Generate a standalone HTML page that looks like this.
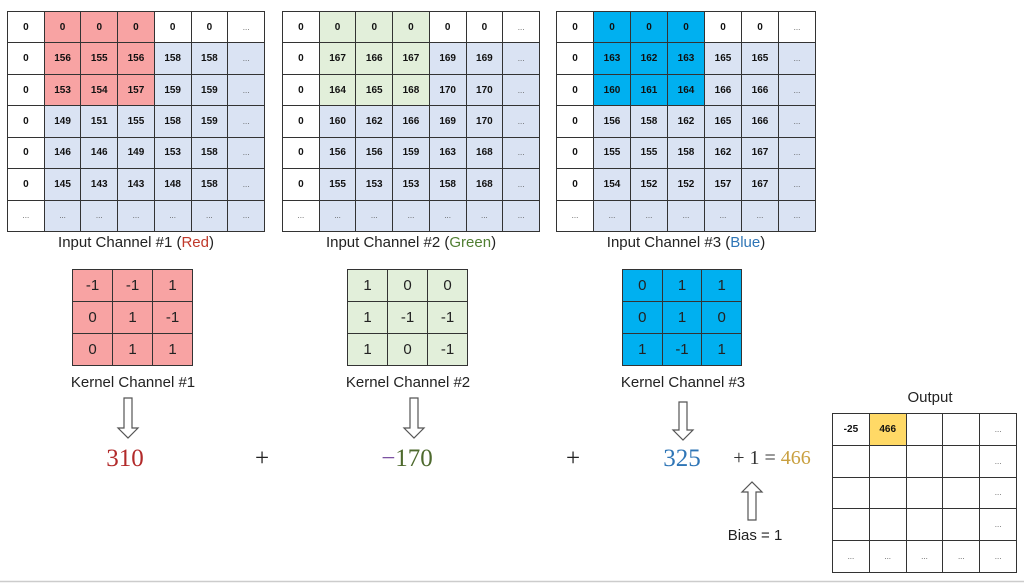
<!DOCTYPE html>
<html><head><meta charset="utf-8"><style>
body{margin:0;width:1024px;height:584px;background:#fff;position:relative;overflow:hidden;font-family:"Liberation Sans",sans-serif;}
.a{position:absolute}
table{position:absolute;border-collapse:collapse;table-layout:fixed}
.g td{border:1.5px solid #333;text-align:center;font-size:10px;font-weight:bold;padding:0;color:#111;height:30px}
.g .e{font-weight:normal;font-size:8px;color:#555}
.w{background:#fff}.b{background:#dae3f3}.r{background:#f8a3a3}.gr{background:#e2efda}.c{background:#00b0f0}
.k td{border:1.5px solid #333;text-align:center;font-size:15px;padding:0;height:30px;color:#222}
.lab{position:absolute;font-size:15px;color:#222;white-space:nowrap;transform:translateX(-50%)}
.num{position:absolute;font-family:"Liberation Serif",serif;font-size:25px;transform:translateX(-50%);white-space:nowrap}
</style></head><body>

<table class="g" style="left:7px;top:11px;width:258px;height:221px">
<tr><td class="w">0</td><td class="r">0</td><td class="r">0</td><td class="r">0</td><td class="w">0</td><td class="w">0</td><td class="w e">...</td></tr>
<tr><td class="w">0</td><td class="r">156</td><td class="r">155</td><td class="r">156</td><td class="b">158</td><td class="b">158</td><td class="b e">...</td></tr>
<tr><td class="w">0</td><td class="r">153</td><td class="r">154</td><td class="r">157</td><td class="b">159</td><td class="b">159</td><td class="b e">...</td></tr>
<tr><td class="w">0</td><td class="b">149</td><td class="b">151</td><td class="b">155</td><td class="b">158</td><td class="b">159</td><td class="b e">...</td></tr>
<tr><td class="w">0</td><td class="b">146</td><td class="b">146</td><td class="b">149</td><td class="b">153</td><td class="b">158</td><td class="b e">...</td></tr>
<tr><td class="w">0</td><td class="b">145</td><td class="b">143</td><td class="b">143</td><td class="b">148</td><td class="b">158</td><td class="b e">...</td></tr>
<tr><td class="w e">...</td><td class="b e">...</td><td class="b e">...</td><td class="b e">...</td><td class="b e">...</td><td class="b e">...</td><td class="b e">...</td></tr>
</table>

<table class="g" style="left:282px;top:11px;width:258px;height:221px">
<tr><td class="w">0</td><td class="gr">0</td><td class="gr">0</td><td class="gr">0</td><td class="w">0</td><td class="w">0</td><td class="w e">...</td></tr>
<tr><td class="w">0</td><td class="gr">167</td><td class="gr">166</td><td class="gr">167</td><td class="b">169</td><td class="b">169</td><td class="b e">...</td></tr>
<tr><td class="w">0</td><td class="gr">164</td><td class="gr">165</td><td class="gr">168</td><td class="b">170</td><td class="b">170</td><td class="b e">...</td></tr>
<tr><td class="w">0</td><td class="b">160</td><td class="b">162</td><td class="b">166</td><td class="b">169</td><td class="b">170</td><td class="b e">...</td></tr>
<tr><td class="w">0</td><td class="b">156</td><td class="b">156</td><td class="b">159</td><td class="b">163</td><td class="b">168</td><td class="b e">...</td></tr>
<tr><td class="w">0</td><td class="b">155</td><td class="b">153</td><td class="b">153</td><td class="b">158</td><td class="b">168</td><td class="b e">...</td></tr>
<tr><td class="w e">...</td><td class="b e">...</td><td class="b e">...</td><td class="b e">...</td><td class="b e">...</td><td class="b e">...</td><td class="b e">...</td></tr>
</table>

<table class="g" style="left:556px;top:11px;width:260px;height:221px">
<tr><td class="w">0</td><td class="c">0</td><td class="c">0</td><td class="c">0</td><td class="w">0</td><td class="w">0</td><td class="w e">...</td></tr>
<tr><td class="w">0</td><td class="c">163</td><td class="c">162</td><td class="c">163</td><td class="b">165</td><td class="b">165</td><td class="b e">...</td></tr>
<tr><td class="w">0</td><td class="c">160</td><td class="c">161</td><td class="c">164</td><td class="b">166</td><td class="b">166</td><td class="b e">...</td></tr>
<tr><td class="w">0</td><td class="b">156</td><td class="b">158</td><td class="b">162</td><td class="b">165</td><td class="b">166</td><td class="b e">...</td></tr>
<tr><td class="w">0</td><td class="b">155</td><td class="b">155</td><td class="b">158</td><td class="b">162</td><td class="b">167</td><td class="b e">...</td></tr>
<tr><td class="w">0</td><td class="b">154</td><td class="b">152</td><td class="b">152</td><td class="b">157</td><td class="b">167</td><td class="b e">...</td></tr>
<tr><td class="w e">...</td><td class="b e">...</td><td class="b e">...</td><td class="b e">...</td><td class="b e">...</td><td class="b e">...</td><td class="b e">...</td></tr>
</table>

<div class="lab" style="left:136px;top:234px">Input Channel #1 (<span style="color:#c0392b">Red</span>)</div>
<div class="lab" style="left:411px;top:234px">Input Channel #2 (<span style="color:#507e32">Green</span>)</div>
<div class="lab" style="left:686px;top:234px">Input Channel #3 (<span style="color:#2e75b6">Blue</span>)</div>

<table class="k r" style="left:72px;top:269px;width:121px;height:97px">
<tr><td>-1</td><td>-1</td><td>1</td></tr><tr><td>0</td><td>1</td><td>-1</td></tr><tr><td>0</td><td>1</td><td>1</td></tr></table>
<table class="k gr" style="left:347px;top:269px;width:121px;height:97px">
<tr><td>1</td><td>0</td><td>0</td></tr><tr><td>1</td><td>-1</td><td>-1</td></tr><tr><td>1</td><td>0</td><td>-1</td></tr></table>
<table class="k c" style="left:622px;top:269px;width:120px;height:97px">
<tr><td>0</td><td>1</td><td>1</td></tr><tr><td>0</td><td>1</td><td>0</td></tr><tr><td>1</td><td>-1</td><td>1</td></tr></table>

<div class="lab" style="left:133px;top:374px">Kernel Channel #1</div>
<div class="lab" style="left:408px;top:374px">Kernel Channel #2</div>
<div class="lab" style="left:683px;top:374px">Kernel Channel #3</div>

<svg class="a" style="left:0;top:0" width="1024" height="584">
<g fill="#fff" stroke="#555" stroke-width="1.2">
<path d="M124 398 H132 V428 H138 L128 438 L118 428 H124 Z"/>
<path d="M410 398 H418 V428 H424 L414 438 L404 428 H410 Z"/>
<path d="M679 402 H687 V430 H693 L683 440 L673 430 H679 Z"/>
<path d="M748 520 H756 V492 H762 L752 482 L742 492 H748 Z"/>
</g>
<line x1="0" y1="581.5" x2="1024" y2="581.5" stroke="#ccc" stroke-width="1.5"/>
</svg>

<div class="num" style="left:125px;top:445px;color:#b22a2a">310</div>
<div class="num" style="left:262px;top:445px;color:#222">+</div>
<div class="num" style="left:407px;top:445px;color:#4e6a2e"><span style="color:#7a4fa0">−</span>170</div>
<div class="num" style="left:573px;top:445px;color:#222">+</div>
<div class="num" style="left:682px;top:445px;color:#2e75b6">325</div>
<div class="num" style="left:772px;top:447px;font-size:20px;color:#333">+ 1 = <span style="color:#c9a040">466</span></div>

<div class="lab" style="left:755px;top:527px">Bias = 1</div>
<div class="lab" style="left:930px;top:389px">Output</div>

<table class="g" style="left:832px;top:413px;width:185px;height:160px">
<tr><td class="w">-25</td><td style="background:#ffd966">466</td><td class="w"></td><td class="w"></td><td class="w e">...</td></tr>
<tr><td></td><td></td><td></td><td></td><td class="e">...</td></tr>
<tr><td></td><td></td><td></td><td></td><td class="e">...</td></tr>
<tr><td></td><td></td><td></td><td></td><td class="e">...</td></tr>
<tr><td class="e">...</td><td class="e">...</td><td class="e">...</td><td class="e">...</td><td class="e">...</td></tr>
</table>
</body></html>
